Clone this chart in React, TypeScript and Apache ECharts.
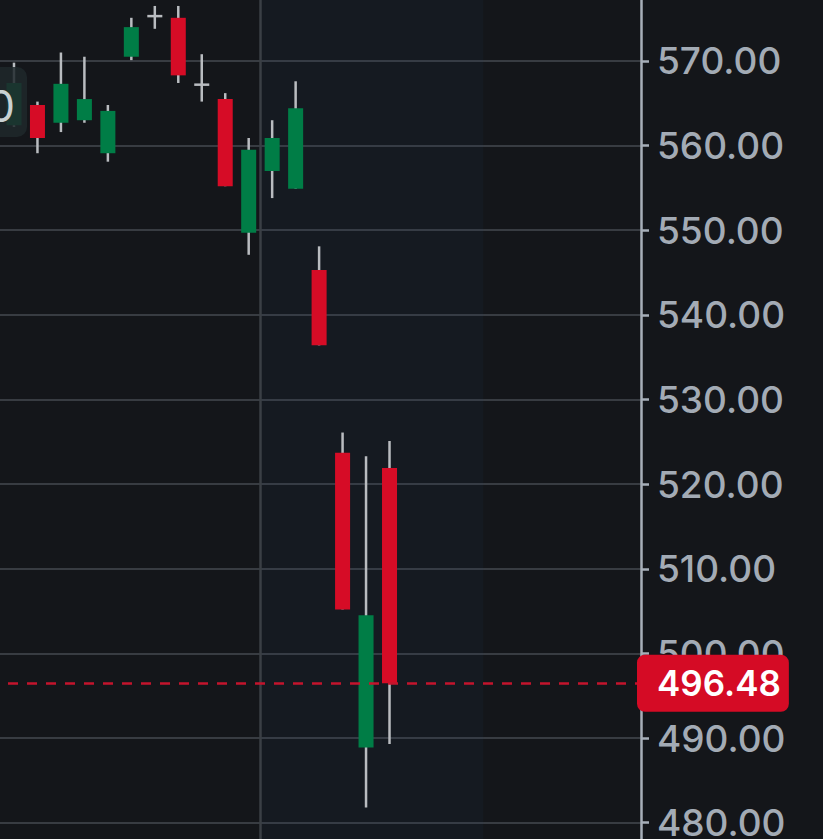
import React, { useEffect, useRef } from 'react';
import * as echarts from 'echarts';

// Candle index (x position), OHLC values
const indices = [0, 1, 2, 3, 4, 5, 6, 7, 8, 9, 10, 11, 12, 13, 14, 15, 16];
const opens = [562.4, 564.8, 562.7, 563.0, 559.1, 570.5, 575.3, 575.1, 567.2, 565.5, 549.7, 557.0, 554.9, 545.3, 523.7, 488.9, 521.9];
const closes = [567.4, 560.9, 567.3, 565.5, 564.1, 574.0, 575.3, 568.3, 567.2, 555.2, 559.5, 560.9, 564.4, 536.4, 505.2, 504.5, 496.48];
const lows = [562.2, 559.1, 561.6, 562.7, 558.1, 570.1, 573.8, 567.4, 565.2, 555.2, 547.1, 553.8, 554.9, 536.4, 505.2, 481.8, 489.3];
const highs = [569.8, 565.2, 571.0, 570.5, 564.8, 575.1, 576.5, 576.5, 570.8, 566.2, 560.9, 563.0, 567.6, 548.1, 526.1, 523.3, 525.1];

const lastPrice = 496.48;
const lastPriceLabel = '496.48';
const sessionStart = 10.5;
const sessionEnd = 20;
const cutLabelText = '0';

const GREEN = '#007d46';
const RED = '#d60c26';
const WICK = '#b9bcc0';
const BG = '#14161a';

export default function App() {
  const ref = useRef<HTMLDivElement>(null);

  useEffect(() => {
    if (!ref.current) return;
    const chart = echarts.init(ref.current, null, { renderer: 'svg' });
    const data = indices.map((x, i) => [x, opens[i], closes[i], lows[i], highs[i]]);

    chart.setOption({
      animation: false,
      backgroundColor: BG,
      grid: { left: 0, right: 182, top: -2, bottom: -2, containLabel: false, outerBoundsMode: 'none' },
      xAxis: {
        type: 'value',
        min: -0.596,
        max: 26.715,
        show: false,
        splitLine: { show: false },
      },
      yAxis: {
        type: 'value',
        position: 'right',
        min: 477.84,
        max: 577.44,
        splitNumber: 10,
        axisLine: { show: true, onZero: false, lineStyle: { color: '#a7afb9', width: 2.5 } },
        axisTick: { show: true, length: 8, lineStyle: { color: '#a7afb9', width: 2.5 } },
        axisLabel: {
          margin: 16,
          color: '#a3abb5',
          fontSize: 37,
          fontWeight: 500,
          fontFamily: 'Inter',
          formatter: (v: number) => (Math.abs(v - Math.round(v / 10) * 10) < 1e-6 ? v.toFixed(2) : ''),
        },
        splitLine: { show: true, lineStyle: { color: '#383c42', width: 2 } },
      },
      series: [
        {
          type: 'custom',
          data,
          encode: { x: 0, y: [1, 2, 3, 4] },
          clip: false,
          renderItem: (params: any, api: any) => {
            const x = api.value(0);
            const o = api.value(1);
            const c = api.value(2);
            const l = api.value(3);
            const h = api.value(4);
            const pO = api.coord([x, o]);
            const pC = api.coord([x, c]);
            const pL = api.coord([x, l]);
            const pH = api.coord([x, h]);
            const w = api.size([0.64, 0])[0];
            const top = Math.min(pO[1], pC[1]);
            const bot = Math.max(pO[1], pC[1]);
            const children: any[] = [
              {
                type: 'line',
                shape: { x1: pH[0], y1: pH[1], x2: pL[0], y2: pL[1] },
                style: { stroke: WICK, lineWidth: 2.5 },
              },
            ];
            if (o === c) {
              children.push({
                type: 'line',
                shape: { x1: pO[0] - w / 2, y1: top, x2: pO[0] + w / 2, y2: top },
                style: { stroke: WICK, lineWidth: 2.5 },
              });
            } else {
              children.push({
                type: 'rect',
                shape: { x: pO[0] - w / 2, y: top, width: w, height: bot - top },
                style: { fill: c > o ? GREEN : RED },
              });
            }
            return { type: 'group', children };
          },
          markArea: {
            silent: true,
            itemStyle: { color: 'rgba(40,72,96,0.1)' },
            data: [[{ xAxis: sessionStart }, { xAxis: sessionEnd }]],
          },
          markLine: {
            silent: true,
            symbol: ['none', 'none'],
            animation: false,
            data: [
              {
                xAxis: sessionStart,
                lineStyle: { color: '#3a3f45', width: 2.5, type: 'solid' },
                label: { show: false },
              },
              {
                yAxis: lastPrice,
                lineStyle: { color: '#c3142d', width: 2.5, type: [10, 9], dashOffset: 10.7 },
                label: {
                  show: true,
                  position: 'end',
                  distance: -4,
                  formatter: lastPriceLabel,
                  backgroundColor: '#d50b25',
                  borderRadius: 8,
                  padding: [11, 8, 11, 20],
                  color: '#ffffff',
                  fontSize: 35,
                  fontWeight: 600,
                  fontFamily: 'Inter',
                  lineHeight: 35,
                },
              },
            ],
          },
        },
      ],
      graphic: [
        {
          type: 'rect',
          z: 100,
          shape: { x: -40, y: 67, width: 67, height: 70, r: 10 },
          style: { fill: 'rgba(30,40,43,0.85)' },
        },
        {
          type: 'text',
          z: 101,
          x: 15,
          y: 106,
          style: {
            text: cutLabelText,
            fill: '#c9d1d3',
            font: '44px Inter',
            textAlign: 'right',
            textVerticalAlign: 'middle',
          },
        },
      ],
    });

    return () => chart.dispose();
  }, []);

  return (
    <div
      ref={ref}
      style={{ position: 'fixed', left: 0, top: 0, width: 823, height: 839, background: BG }}
    />
  );
}
